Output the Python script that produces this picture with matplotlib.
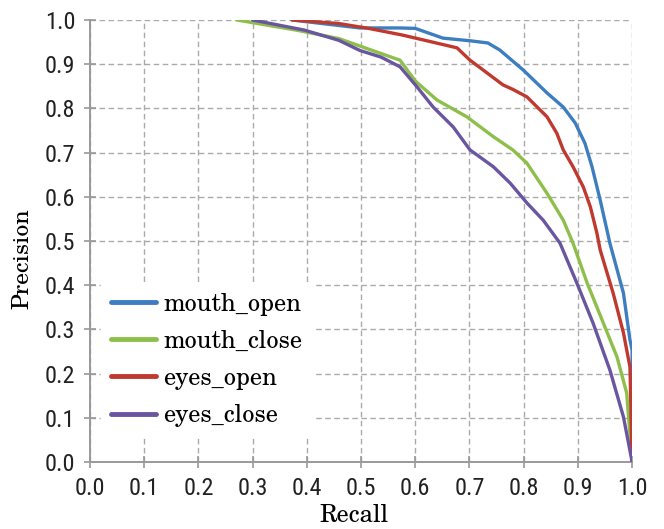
import matplotlib
matplotlib.use("Agg")
import matplotlib.pyplot as plt

# Data
mouth_open_recall = [0.373, 0.428, 0.498, 0.572, 0.600, 0.651, 0.701, 0.734, 0.756, 0.799, 0.843, 0.873, 0.895, 0.913, 0.926, 0.941, 0.959, 0.984, 0.996, 1.0, 1.0]
mouth_open_prec   = [1.000, 0.992, 0.982, 0.982, 0.981, 0.959, 0.953, 0.948, 0.932, 0.887, 0.835, 0.803, 0.767, 0.721, 0.668, 0.593, 0.495, 0.382, 0.276, 0.253, 0.0]

mouth_close_recall = [0.271, 0.381, 0.459, 0.521, 0.572, 0.600, 0.640, 0.695, 0.744, 0.780, 0.806, 0.843, 0.873, 0.891, 0.917, 0.947, 0.972, 0.990, 1.0]
mouth_close_prec   = [1.000, 0.977, 0.958, 0.931, 0.909, 0.862, 0.819, 0.781, 0.736, 0.706, 0.676, 0.608, 0.547, 0.495, 0.405, 0.314, 0.238, 0.156, 0.0]

eyes_open_recall = [0.373, 0.459, 0.514, 0.576, 0.677, 0.701, 0.725, 0.762, 0.780, 0.806, 0.843, 0.861, 0.873, 0.891, 0.910, 0.923, 0.935, 0.941, 0.965, 0.984, 0.996, 1.0]
eyes_open_prec   = [1.000, 0.992, 0.981, 0.966, 0.937, 0.909, 0.887, 0.853, 0.843, 0.826, 0.781, 0.744, 0.706, 0.668, 0.622, 0.577, 0.518, 0.480, 0.382, 0.292, 0.215, 0.0]

eyes_close_recall = [0.300, 0.396, 0.459, 0.498, 0.537, 0.572, 0.603, 0.633, 0.670, 0.701, 0.744, 0.775, 0.806, 0.836, 0.867, 0.898, 0.928, 0.959, 0.984, 1.0]
eyes_close_prec   = [1.000, 0.977, 0.954, 0.931, 0.916, 0.894, 0.849, 0.803, 0.758, 0.706, 0.668, 0.631, 0.586, 0.547, 0.495, 0.405, 0.314, 0.208, 0.102, 0.0]

series_names = ["mouth_open", "mouth_close", "eyes_open", "eyes_close"]
series_colors = ["#3D7EC0", "#8DBF4A", "#C0392F", "#6A55A0"]

tick_vals = [0.0, 0.1, 0.2, 0.3, 0.4, 0.5, 0.6, 0.7, 0.8, 0.9, 1.0]
tick_labels = ["0.0", "0.1", "0.2", "0.3", "0.4", "0.5", "0.6", "0.7", "0.8", "0.9", "1.0"]

tickfont = ["Roboto Condensed", "Archivo Narrow", "Asap Condensed", "DejaVu Sans"]
seriffont = ["TeX Gyre Schola", "C059", "Century Schoolbook L", "DejaVu Serif"]

fig = plt.figure(figsize=(6.64, 5.29), dpi=100)
ax = fig.add_axes([0.1355, 0.1267, 0.8165, 0.8355])

data = [
    (mouth_open_recall, mouth_open_prec),
    (mouth_close_recall, mouth_close_prec),
    (eyes_open_recall, eyes_open_prec),
    (eyes_close_recall, eyes_close_prec),
]
for (xs, ys), name, col in zip(data, series_names, series_colors):
    ax.plot(xs, ys, color=col, lw=2.4, label=name, solid_capstyle="round",
            solid_joinstyle="round", zorder=3)

ax.set_xlim(0, 1)
ax.set_ylim(0, 1)
ax.set_xticks(tick_vals)
ax.set_xticklabels(tick_labels)
ax.set_yticks(tick_vals)
ax.set_yticklabels(tick_labels)

for lab in ax.get_xticklabels() + ax.get_yticklabels():
    lab.set_fontfamily(tickfont)
    lab.set_fontsize(17.5)
    lab.set_color("#222222")

ax.tick_params(axis="both", direction="inout", length=9, width=1.2, color="#999999")
ax.tick_params(axis="x", pad=6)
ax.tick_params(axis="y", pad=6)
ax.grid(True, linestyle=(0, (4, 2.5)), color="#AAAAAA", lw=1.0, zorder=0)

for s in ["top", "right"]:
    ax.spines[s].set_visible(False)
for s in ["left", "bottom"]:
    ax.spines[s].set_color("#999999")
    ax.spines[s].set_linewidth(1.4)

ax.set_xlabel("Recall", family=seriffont, fontsize=17.5)
ax.set_ylabel("Precision", family=seriffont, fontsize=17)
ax.xaxis.set_label_coords(0.487, -0.095)
ax.yaxis.set_label_coords(-0.105, 0.46)

leg = ax.legend(loc="lower left", bbox_to_anchor=(0.02, 0.057), frameon=True,
                prop={"family": seriffont, "size": 17.5},
                handlelength=1.85, handletextpad=0.33, labelspacing=0.58,
                borderpad=0.4, borderaxespad=0.0, fancybox=False)
leg.get_frame().set_edgecolor("white")
leg.get_frame().set_facecolor("white")
leg.get_frame().set_alpha(1.0)
for h in leg.get_lines():
    h.set_linewidth(3.5)

fig.savefig("out.png", dpi=100)
